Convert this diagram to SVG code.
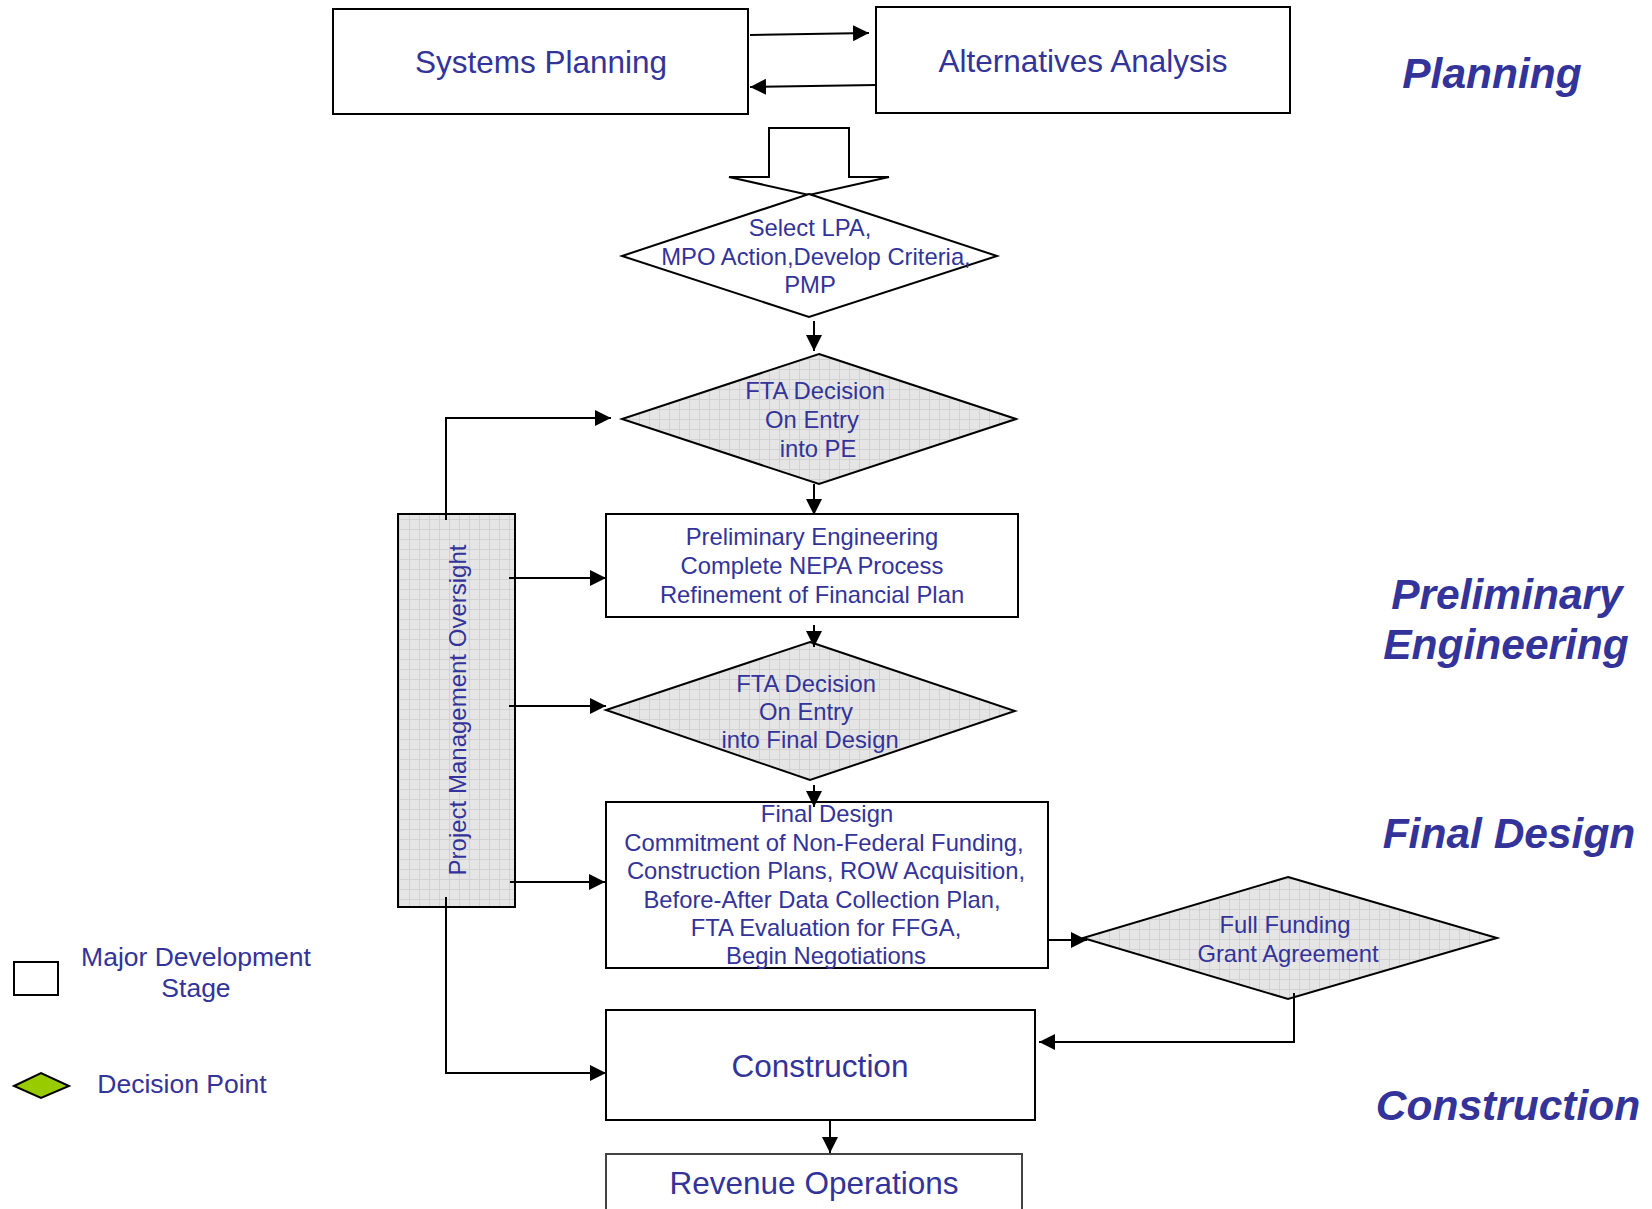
<svg xmlns="http://www.w3.org/2000/svg" width="1652" height="1209" viewBox="0 0 1652 1209">
<style>
.box{fill:#fff;stroke:#000;stroke-width:2}
.gray{fill:url(#grid);stroke:#000;stroke-width:2}
.con{fill:none;stroke:#000;stroke-width:2}
.t{font-family:"Liberation Sans",Arial,sans-serif;fill:#333399;text-anchor:middle}
.s{font-size:23.8px}
.l{font-size:31.5px}
.g{font-size:26.5px}
.ph{font-family:"Liberation Sans",Arial,sans-serif;font-weight:bold;font-style:italic;font-size:42.5px;fill:#333399;text-anchor:middle}
</style>
<defs>
<pattern id="grid" width="10" height="10" patternUnits="userSpaceOnUse">
<rect width="10" height="10" fill="#e5e5e5"/>
<path d="M9.5 0V10M0 9.5H10" stroke="#d2d2d2" stroke-width="1"/>
</pattern>
<marker id="ah" markerUnits="userSpaceOnUse" markerWidth="17" markerHeight="16" refX="16" refY="8" orient="auto">
<path d="M0,0 L16,8 L0,16 z" fill="#000"/>
</marker>
</defs>

<g id="systems-planning">
<rect class="box" x="333" y="9" width="415" height="105"/>
<text class="t l" x="541" y="73">Systems Planning</text>
</g>
<g id="alternatives-analysis">
<rect class="box" x="876" y="7" width="414" height="106"/>
<text class="t l" x="1083" y="72">Alternatives Analysis</text>
</g>
<g id="block-arrow">
<polygon class="box" points="769,128 849,128 849,177 889,177 809,195 729,177 769,177"/>
</g>
<g id="select-lpa">
<polygon class="box" points="809,194 997,256 809,317 622,256"/>
<text class="t s" x="810" y="236">Select LPA,</text>
<text class="t s" x="816" y="265">MPO Action,Develop Criteria,</text>
<text class="t s" x="810" y="293">PMP</text>
</g>
<g id="fta-pe">
<polygon class="gray" points="819,354 1016,419 819,484 622,419"/>
<text class="t s" x="815" y="399">FTA Decision</text>
<text class="t s" x="812" y="428">On Entry</text>
<text class="t s" x="818" y="457">into PE</text>
</g>
<g id="preliminary-engineering">
<rect class="box" x="606" y="514" width="412" height="103"/>
<text class="t s" x="812" y="545">Preliminary Engineering</text>
<text class="t s" x="812" y="574">Complete NEPA Process</text>
<text class="t s" x="812" y="603">Refinement of Financial Plan</text>
</g>
<g id="fta-fd">
<polygon class="gray" points="810,642 1015,711 810,780 606,710"/>
<text class="t s" x="806" y="692">FTA Decision</text>
<text class="t s" x="806" y="720">On Entry</text>
<text class="t s" x="810" y="748">into Final Design</text>
</g>
<g id="final-design">
<rect class="box" x="606" y="802" width="442" height="166"/>
<text class="t s" x="827" y="822">Final Design</text>
<text class="t s" x="824" y="851">Commitment of Non-Federal Funding,</text>
<text class="t s" x="826" y="879">Construction Plans, ROW Acquisition,</text>
<text class="t s" x="822" y="908">Before-After Data Collection Plan,</text>
<text class="t s" x="826" y="936">FTA Evaluation for FFGA,</text>
<text class="t s" x="826" y="964">Begin Negotiations</text>
</g>
<g id="ffga">
<polygon class="gray" points="1288,877 1497,938 1288,999 1083,938"/>
<text class="t s" x="1285" y="933">Full Funding</text>
<text class="t s" x="1288" y="962">Grant Agreement</text>
</g>
<g id="construction">
<rect class="box" x="606" y="1010" width="429" height="110"/>
<text class="t l" x="820" y="1077">Construction</text>
</g>
<g id="revenue-operations">
<rect x="606" y="1154" width="416" height="70" fill="#fff" stroke="#444" stroke-width="2"/>
<text class="t l" x="814" y="1194">Revenue Operations</text>
</g>
<g id="pmo">
<rect class="gray" x="398" y="514" width="117" height="393"/>
<text class="t" style="font-size:24px" transform="translate(466,710) rotate(-90)">Project Management Oversight</text>
</g>

<g id="connectors">
<line class="con" x1="750" y1="35" x2="869" y2="33" marker-end="url(#ah)"/>
<line class="con" x1="876" y1="85" x2="750" y2="87" marker-end="url(#ah)"/>
<line class="con" x1="814" y1="321" x2="814" y2="351" marker-end="url(#ah)"/>
<line class="con" x1="814" y1="484" x2="814" y2="515" marker-end="url(#ah)"/>
<line class="con" x1="814" y1="625" x2="814" y2="647" marker-end="url(#ah)"/>
<line class="con" x1="814" y1="785" x2="814" y2="807" marker-end="url(#ah)"/>
<line class="con" x1="1048" y1="940" x2="1087" y2="940" marker-end="url(#ah)"/>
<polyline class="con" points="1294,993 1294,1042 1039,1042" marker-end="url(#ah)"/>
<line class="con" x1="830" y1="1120" x2="830" y2="1153" marker-end="url(#ah)"/>
<polyline class="con" points="446,520 446,418 611,418" marker-end="url(#ah)"/>
<line class="con" x1="509" y1="578" x2="606" y2="578" marker-end="url(#ah)"/>
<line class="con" x1="509" y1="706" x2="606" y2="706" marker-end="url(#ah)"/>
<line class="con" x1="510" y1="882" x2="605" y2="882" marker-end="url(#ah)"/>
<polyline class="con" points="446,897 446,1073 606,1073" marker-end="url(#ah)"/>
</g>

<g id="legend">
<rect class="box" x="14" y="962" width="44" height="33"/>
<text class="t g" x="196" y="966">Major Development</text>
<text class="t g" x="196" y="997">Stage</text>
<polygon points="14,1086 41,1073 69,1086 41,1098" fill="#99cc00" stroke="#000" stroke-width="2"/>
<text class="t g" x="182" y="1093">Decision Point</text>
</g>

<g id="phases">
<text class="ph" x="1492" y="88">Planning</text>
<text class="ph" x="1507" y="609">Preliminary</text>
<text class="ph" x="1506" y="659">Engineering</text>
<text class="ph" x="1509" y="848">Final Design</text>
<text class="ph" x="1508" y="1120">Construction</text>
</g>
</svg>
